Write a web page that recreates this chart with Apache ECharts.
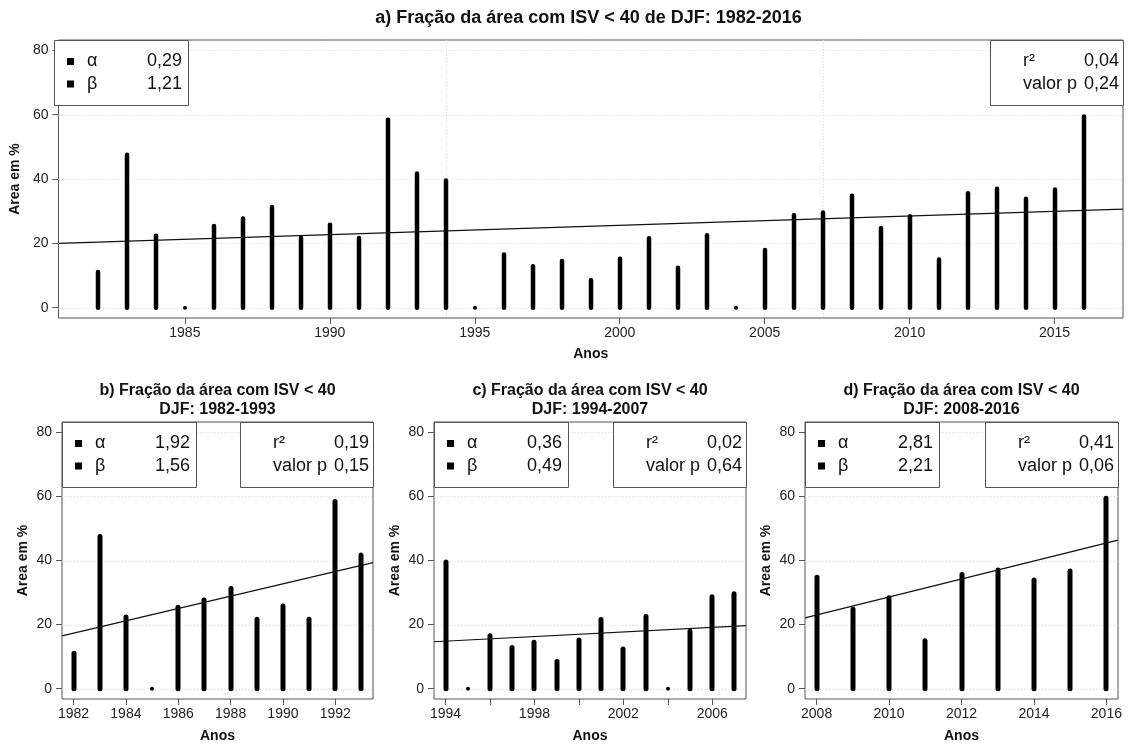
<!DOCTYPE html>
<html>
<head>
<meta charset="utf-8">
<script src="https://cdn.jsdelivr.net/npm/echarts@6/dist/echarts.min.js"></script>
<style>
  html, body { margin: 0; padding: 0; background: #fff; }
  #main { width: 1129px; height: 744px; }
</style>
</head>
<body>
<div id="main"></div>
<script>
// dados
var years = [1982, 1983, 1984, 1985, 1986, 1987, 1988, 1989, 1990, 1991, 1992, 1993,
  1994, 1995, 1996, 1997, 1998, 1999, 2000, 2001, 2002, 2003, 2004, 2005, 2006, 2007,
  2008, 2009, 2010, 2011, 2012, 2013, 2014, 2015, 2016];
var areaPct = [11.1, 47.5, 22.4, 0, 25.4, 27.7, 31.3, 21.7, 25.8, 21.7, 58.4, 41.7,
  39.5, 0, 16.5, 12.9, 14.5, 8.5, 15.2, 21.6, 12.4, 22.5, 0, 17.9, 28.7, 29.6,
  34.8, 24.8, 28.4, 15.0, 35.6, 37.0, 33.9, 36.7, 59.4];

var panelTitles = [
  'a) Fração da área com ISV < 40 de DJF: 1982-2016',
  'b) Fração da área com ISV < 40\nDJF: 1982-1993',
  'c) Fração da área com ISV < 40\nDJF: 1994-2007',
  'd) Fração da área com ISV < 40\nDJF: 2008-2016'
];
var periodStart = [1982, 1982, 1994, 2008];
var periodEnd = [2016, 1993, 2007, 2016];
var alphaVals = ['0,29', '1,92', '0,36', '2,81'];
var betaVals = ['1,21', '1,56', '0,49', '2,21'];
var r2Vals = ['0,04', '0,19', '0,02', '0,41'];
var pVals = ['0,24', '0,15', '0,64', '0,06'];
var trendSlope = [0.29, 1.92, 0.36, 2.81];
var trendAtStart = [20.4, 17.35, 14.85, 23.0];
var yTicks = [0, 20, 40, 60, 80];
var xTicks = [
  [1985, 1990, 1995, 2000, 2005, 2010, 2015],
  [1982, 1984, 1986, 1988, 1990, 1992],
  [1994, 1996, 1998, 2000, 2002, 2004, 2006],
  [2008, 2010, 2012, 2014, 2016]
];
var xLabels = [
  [1985, 1990, 1995, 2000, 2005, 2010, 2015],
  [1982, 1984, 1986, 1988, 1990, 1992],
  [1994, 1998, 2002, 2006],
  [2008, 2010, 2012, 2014, 2016]
];
var splitYears = [1994, 2007]; // linhas verticais do painel a

// layout
var boxes = [
  { left: 54, top: 40, width: 1069, height: 278 },
  { left: 62, top: 422, width: 311, height: 278 },
  { left: 434, top: 422, width: 312, height: 278 },
  { left: 805, top: 422, width: 313, height: 278 }
];
var barW = [4.5, 5, 5, 5];
var FONT = '"Liberation Sans", Arial, sans-serif';
var yMin = -3.2, yMax = 83.2;

var chart = echarts.init(document.getElementById('main'), null, { renderer: 'canvas' });

var grid = [], xAxis = [], yAxis = [], series = [], title = [], graphic = [];

boxes.forEach(function (b, i) {
  var span = periodEnd[i] - periodStart[i];
  var xMin = periodStart[i] - 0.04 * span;
  var xMax = periodEnd[i] + 0.04 * span;

  grid.push({
    left: b.left, top: b.top, width: b.width, height: b.height,
    show: true, borderColor: '#555', borderWidth: 1, backgroundColor: 'transparent'
  });

  xAxis.push({
    gridIndex: i, type: 'value', min: xMin, max: xMax, position: 'bottom',
    axisLine: { show: false, onZero: false },
    axisTick: { show: true, length: 6, customValues: xTicks[i], lineStyle: { color: '#555' } },
    axisLabel: {
      customValues: xLabels[i], margin: 8, fontSize: 14, color: '#222', fontFamily: FONT,
      formatter: function (v) { return String(v); }
    },
    splitLine: { show: false },
    name: 'Anos', nameLocation: 'middle', nameGap: i === 0 ? 29 : 30,
    nameTextStyle: { fontWeight: 'bold', fontSize: 14, color: '#111', fontFamily: FONT }
  });

  yAxis.push({
    gridIndex: i, type: 'value', min: yMin, max: yMax, position: 'left',
    axisLine: { show: false, onZero: false },
    axisTick: { show: true, length: 6, customValues: yTicks, lineStyle: { color: '#555' } },
    axisLabel: { customValues: yTicks, margin: 10, fontSize: 14, color: '#222', fontFamily: FONT },
    splitLine: { show: false },
    name: 'Area em %', nameLocation: 'middle', nameRotate: 90, nameGap: i === 0 ? 27 : 32,
    nameTextStyle: { fontWeight: 'bold', fontSize: 14, color: '#111', fontFamily: FONT }
  });

  // linhas de grade pontilhadas
  series.push({
    type: 'custom', xAxisIndex: i, yAxisIndex: i, silent: true, z: 1,
    data: yTicks.map(function (v) { return [xMin, v]; }),
    renderItem: function (params, api) {
      var cs = params.coordSys;
      var y = Math.round(api.coord([xMin, api.value(1)])[1]) + 0.5;
      return {
        type: 'line',
        shape: { x1: cs.x, y1: y, x2: cs.x + cs.width, y2: y },
        style: { stroke: '#d9d9d9', lineWidth: 1, lineDash: [1, 2] }
      };
    }
  });
  if (i === 0) {
    series.push({
      type: 'custom', xAxisIndex: i, yAxisIndex: i, silent: true, z: 1,
      data: splitYears.map(function (v) { return [v, 0]; }),
      renderItem: function (params, api) {
        var cs = params.coordSys;
        var x = Math.round(api.coord([api.value(0), 0])[0]) + 0.5;
        return {
          type: 'line',
          shape: { x1: x, y1: cs.y, x2: x, y2: cs.y + cs.height },
          style: { stroke: '#d9d9d9', lineWidth: 1, lineDash: [1, 2] }
        };
      }
    });
  }

  // barras verticais (tipo "h")
  var pts = [];
  years.forEach(function (yr, k) {
    if (yr >= periodStart[i] && yr <= periodEnd[i]) pts.push([yr, areaPct[k]]);
  });
  var w = barW[i];
  series.push({
    type: 'custom', xAxisIndex: i, yAxisIndex: i, silent: true, z: 3,
    data: pts,
    renderItem: function (params, api) {
      var p0 = api.coord([api.value(0), 0]);
      var p1 = api.coord([api.value(0), api.value(1)]);
      var cx = Math.round(p0[0]);
      if (api.value(1) === 0) {
        return { type: 'circle', shape: { cx: cx, cy: p0[1], r: 2 }, style: { fill: '#000' } };
      }
      return {
        type: 'rect',
        shape: { x: cx - w / 2, y: p1[1] - w / 2, width: w, height: p0[1] - p1[1] + w, r: w / 2 },
        style: { fill: '#000' }
      };
    }
  });

  // reta de tendencia
  series.push({
    type: 'line', xAxisIndex: i, yAxisIndex: i, silent: true, z: 4,
    symbol: 'none', animation: false,
    lineStyle: { color: '#111', width: 1.2 },
    data: [
      [xMin, trendAtStart[i] + trendSlope[i] * (xMin - periodStart[i])],
      [xMax, trendAtStart[i] + trendSlope[i] * (xMax - periodStart[i])]
    ]
  });

  title.push({
    text: panelTitles[i], left: b.left + b.width / 2, top: i === 0 ? 8 : 381,
    textAlign: 'center', padding: 0,
    textStyle: { fontSize: i === 0 ? 18 : 16, fontWeight: 'bold', color: '#111',
      lineHeight: i === 0 ? 21 : 19, fontFamily: FONT }
  });

  // legendas
  var lw = 134, rw = 133, lh = 65;
  var row1 = b.top + 21.5, row2 = b.top + 44;
  var rx = b.left + b.width - rw;
  var txt = { fontSize: 18, fill: '#111', fontFamily: FONT, verticalAlign: 'middle' };
  function t(x, y, s, align) {
    return { type: 'text', z: 100, x: x, y: y, style: Object.assign({ text: s, align: align || 'left' }, txt) };
  }
  graphic.push(
    { type: 'rect', z: 100, shape: { x: b.left + 0.5, y: b.top + 0.5, width: lw, height: lh },
      style: { fill: '#fff', stroke: '#555', lineWidth: 1 } },
    { type: 'rect', z: 100, shape: { x: b.left + 13, y: row1 - 3.5, width: 7, height: 7 }, style: { fill: '#000' } },
    { type: 'rect', z: 100, shape: { x: b.left + 13, y: row2 - 3.5, width: 7, height: 7 }, style: { fill: '#000' } },
    t(b.left + 33, row1, 'α'),
    t(b.left + 33, row2, 'β'),
    t(b.left + lw - 6, row1, alphaVals[i], 'right'),
    t(b.left + lw - 6, row2, betaVals[i], 'right'),
    { type: 'rect', z: 100, shape: { x: rx + 0.5, y: b.top + 0.5, width: rw, height: lh },
      style: { fill: '#fff', stroke: '#555', lineWidth: 1 } },
    t(rx + 33, row1, 'r²'),
    t(rx + 33, row2, 'valor p'),
    t(b.left + b.width - 4, row1, r2Vals[i], 'right'),
    t(b.left + b.width - 4, row2, pVals[i], 'right')
  );
});

chart.setOption({
  animation: false,
  backgroundColor: '#fff',
  title: title,
  grid: grid,
  xAxis: xAxis,
  yAxis: yAxis,
  series: series,
  graphic: graphic
});
</script>
</body>
</html>
